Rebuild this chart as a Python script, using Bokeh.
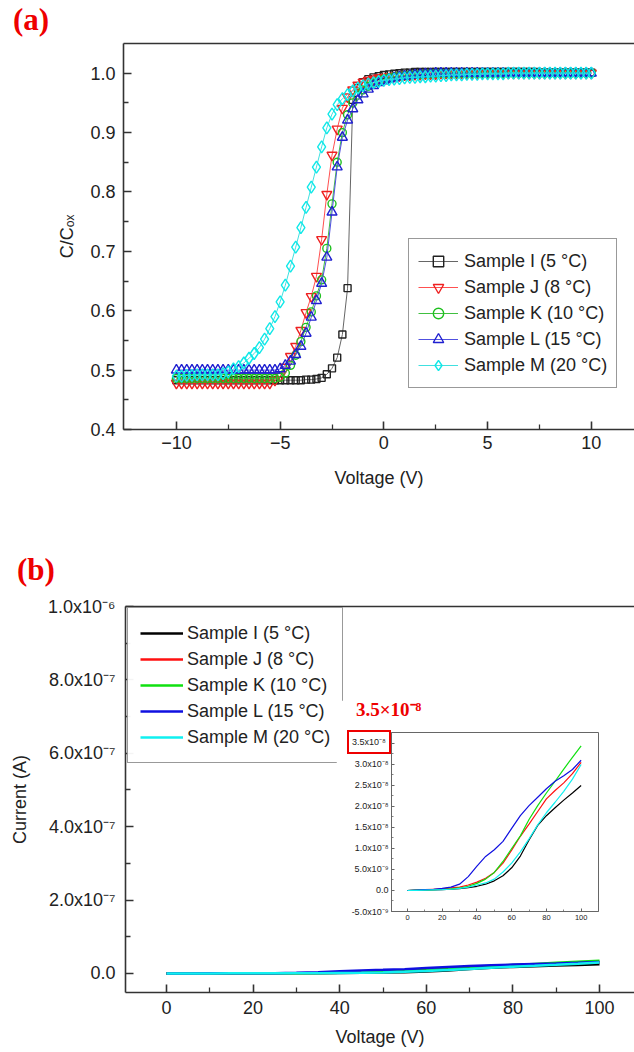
from bokeh.plotting import figure
from bokeh.models import Range1d, FixedTicker, LinearAxis, Div
from bokeh.layouts import column
from bokeh.embed import file_html
from bokeh.resources import INLINE

FONT = "Liberation Sans"
SERIF = "Liberation Serif"

# ---------------- data: panel (a) C-V curves ----------------
voltage_a = [
    -10.0, -9.75, -9.5, -9.25, -9.0, -8.75, -8.5, -8.25, -8.0, -7.75,
    -7.5, -7.25, -7.0, -6.75, -6.5, -6.25, -6.0, -5.75, -5.5, -5.25,
    -5.0, -4.75, -4.5, -4.25, -4.0, -3.75, -3.5, -3.25, -3.0, -2.75,
    -2.5, -2.25, -2.0, -1.75, -1.5, -1.25, -1.0, -0.75, -0.5, -0.25,
    0.0, 0.25, 0.5, 0.75, 1.0, 1.25, 1.5, 1.75, 2.0, 2.25,
    2.5, 2.75, 3.0, 3.25, 3.5, 3.75, 4.0, 4.25, 4.5, 4.75,
    5.0, 5.25, 5.5, 5.75, 6.0, 6.25, 6.5, 6.75, 7.0, 7.25,
    7.5, 7.75, 8.0, 8.25, 8.5, 8.75, 9.0, 9.25, 9.5, 9.75,
    10.0]

c_sample_I = [
    0.483, 0.483, 0.483, 0.483, 0.483, 0.483, 0.483, 0.483, 0.483, 0.483,
    0.483, 0.483, 0.483, 0.483, 0.483, 0.483, 0.483, 0.483, 0.483, 0.483,
    0.483, 0.483, 0.483, 0.483, 0.483, 0.484, 0.484, 0.485, 0.487, 0.493,
    0.503, 0.521, 0.560, 0.638, 0.955, 0.975, 0.985, 0.990, 0.993, 0.995,
    0.997, 0.998, 0.999, 1.000, 1.001, 1.001, 1.002, 1.002, 1.002, 1.002,
    1.002, 1.002, 1.002, 1.002, 1.002, 1.002, 1.002, 1.002, 1.002, 1.002,
    1.002, 1.002, 1.002, 1.002, 1.002, 1.002, 1.002, 1.002, 1.002, 1.002,
    1.001, 1.001, 1.001, 1.001, 1.001, 1.001, 1.001, 1.001, 1.001, 1.001,
    1.001]

c_sample_J = [
    0.478, 0.478, 0.478, 0.478, 0.478, 0.478, 0.478, 0.478, 0.478, 0.478,
    0.478, 0.478, 0.478, 0.478, 0.478, 0.478, 0.478, 0.478, 0.478, 0.483,
    0.490, 0.505, 0.523, 0.540, 0.567, 0.597, 0.624, 0.658, 0.720, 0.796,
    0.862, 0.906, 0.941, 0.960, 0.972, 0.980, 0.985, 0.988, 0.990, 0.992,
    0.993, 0.994, 0.995, 0.996, 0.997, 0.997, 0.998, 0.998, 0.999, 0.999,
    0.999, 1.000, 1.000, 1.000, 1.000, 1.000, 1.000, 1.000, 1.000, 1.000,
    1.000, 1.000, 1.000, 1.000, 1.000, 1.000, 1.000, 1.000, 1.000, 1.000,
    1.000, 1.000, 1.000, 1.000, 1.000, 1.000, 1.000, 1.000, 1.000, 1.000,
    1.000]

c_sample_K = [
    0.486, 0.486, 0.486, 0.486, 0.486, 0.486, 0.486, 0.486, 0.486, 0.486,
    0.486, 0.486, 0.486, 0.486, 0.486, 0.486, 0.486, 0.486, 0.486, 0.486,
    0.488, 0.495, 0.508, 0.525, 0.548, 0.572, 0.598, 0.625, 0.652, 0.705,
    0.780, 0.850, 0.900, 0.930, 0.950, 0.963, 0.972, 0.978, 0.983, 0.987,
    0.990, 0.992, 0.994, 0.995, 0.996, 0.997, 0.998, 0.998, 0.999, 0.999,
    1.000, 1.000, 1.000, 1.000, 1.000, 1.000, 1.000, 1.000, 1.000, 1.000,
    1.000, 1.000, 1.000, 1.000, 1.000, 1.000, 1.000, 1.000, 1.000, 1.000,
    1.000, 1.000, 1.000, 1.000, 1.000, 1.000, 1.000, 1.000, 1.000, 1.000,
    1.000]

c_sample_L = [
    0.500, 0.500, 0.500, 0.500, 0.500, 0.500, 0.500, 0.500, 0.500, 0.500,
    0.500, 0.500, 0.500, 0.500, 0.500, 0.500, 0.500, 0.500, 0.500, 0.500,
    0.502, 0.508, 0.515, 0.526, 0.540, 0.562, 0.589, 0.617, 0.646, 0.690,
    0.766, 0.842, 0.892, 0.921, 0.940, 0.955, 0.965, 0.973, 0.979, 0.984,
    0.987, 0.990, 0.992, 0.994, 0.995, 0.996, 0.997, 0.998, 0.999, 0.999,
    1.000, 1.000, 1.000, 1.000, 1.000, 1.000, 1.000, 1.000, 1.000, 1.000,
    1.000, 1.000, 1.000, 1.000, 1.000, 1.000, 1.000, 1.000, 1.000, 1.000,
    1.000, 1.000, 1.000, 1.000, 1.000, 1.000, 1.000, 1.000, 1.000, 1.000,
    1.000]

c_sample_M = [
    0.490, 0.490, 0.491, 0.491, 0.492, 0.492, 0.492, 0.492, 0.492, 0.494,
    0.497, 0.502, 0.506, 0.512, 0.520, 0.528, 0.538, 0.552, 0.570, 0.590,
    0.615, 0.643, 0.675, 0.707, 0.740, 0.774, 0.808, 0.842, 0.876, 0.908,
    0.931, 0.947, 0.957, 0.964, 0.970, 0.975, 0.979, 0.982, 0.984, 0.986,
    0.988, 0.989, 0.990, 0.991, 0.992, 0.993, 0.993, 0.994, 0.994, 0.995,
    0.995, 0.996, 0.996, 0.997, 0.997, 0.997, 0.998, 0.998, 0.998, 0.999,
    0.999, 0.999, 0.999, 0.999, 1.000, 1.000, 1.000, 1.000, 1.000, 1.000,
    1.000, 1.000, 1.000, 1.000, 1.000, 1.000, 1.000, 1.000, 1.000, 1.000,
    1.000]

# ---------------- data: panel (b) I-V curves (nA) ----------------
voltage_b = [0, 5, 10, 15, 20, 25, 30, 35, 40, 45, 50,
             55, 60, 65, 70, 75, 80, 85, 90, 95, 100]
i_sample_I_nA = [0.0, 0.05, 0.1, 0.15, 0.2, 0.3, 0.45, 0.7, 1.0, 1.5, 2.3,
                 3.5, 5.4, 8.2, 12.0, 15.5, 17.8, 19.7, 21.5, 23.2, 25.0]
i_sample_J_nA = [0.0, 0.1, 0.2, 0.3, 0.4, 0.6, 0.8, 1.3, 2.0, 2.9, 4.3,
                 6.5, 9.6, 12.9, 15.8, 18.8, 21.8, 23.8, 25.6, 27.8, 30.5]
i_sample_K_nA = [0.0, 0.1, 0.15, 0.2, 0.3, 0.4, 0.6, 1.0, 1.7, 2.7, 4.3,
                 6.9, 10.0, 13.0, 16.9, 20.2, 23.2, 26.0, 28.9, 31.7, 34.4]
i_sample_L_nA = [0.0, 0.1, 0.2, 0.3, 0.5, 0.8, 1.5, 3.3, 5.8, 8.1, 9.7,
                 11.7, 14.8, 17.8, 20.2, 22.2, 24.2, 26.0, 27.3, 28.8, 31.0]
i_sample_M_nA = [0.0, 0.05, 0.1, 0.15, 0.2, 0.3, 0.5, 0.8, 1.3, 1.8, 2.7,
                 4.4, 6.5, 9.2, 12.3, 15.6, 18.5, 21.0, 23.6, 26.5, 30.0]

labels = ["Sample I (5 \u00b0C)", "Sample J (8 \u00b0C)", "Sample K (10 \u00b0C)",
          "Sample L (15 \u00b0C)", "Sample M (20 \u00b0C)"]

# ---------------- ticks ----------------
x_ticks_a = [-10, -5, 0, 5, 10]
x_minor_a = [-7.5, -2.5, 2.5, 7.5]
y_ticks_a = [0.4, 0.5, 0.6, 0.7, 0.8, 0.9, 1.0]
y_tick_labels_a = ["0.4", "0.5", "0.6", "0.7", "0.8", "0.9", "1.0"]
y_minor_a = [0.45, 0.55, 0.65, 0.75, 0.85, 0.95]

x_ticks_b = [0, 20, 40, 60, 80, 100]
x_minor_b = [10, 30, 50, 70, 90]
y_ticks_b = [0.0, 2e-7, 4e-7, 6e-7, 8e-7, 1e-6]
y_tick_labels_b = ["0.0", "2.0x10\u207b\u2077", "4.0x10\u207b\u2077", "6.0x10\u207b\u2077",
                   "8.0x10\u207b\u2077", "1.0x10\u207b\u2076"]
y_minor_b = [1e-7, 3e-7, 5e-7, 7e-7, 9e-7]

y_ticks_in = [-5e-9, 0.0, 5e-9, 1e-8, 1.5e-8, 2e-8, 2.5e-8, 3e-8, 3.5e-8]
y_tick_labels_in = ["-5.0x10\u207b\u2079", "0.0", "5.0x10\u207b\u2079", "1.0x10\u207b\u2078",
                    "1.5x10\u207b\u2078", "2.0x10\u207b\u2078", "2.5x10\u207b\u2078",
                    "3.0x10\u207b\u2078", "3.5x10\u207b\u2078"]
y_minor_in = [-2.5e-9, 2.5e-9, 7.5e-9, 1.25e-8, 1.75e-8, 2.25e-8, 2.75e-8, 3.25e-8]
highlight_tick = 3.5e-8
highlight_text = "3.5x10\u207b\u2078"
callout_text = "3.5\u00d710\u207b\u2078"
panel_labels = ["(a)", "(b)"]


def style_axis(ax, font_size="18px", tick_in=8, minor_in=5, lw=1.6, color="#333333"):
    ax.axis_line_width = lw
    ax.axis_line_color = color
    ax.major_tick_in = tick_in
    ax.major_tick_out = 0
    ax.minor_tick_in = minor_in
    ax.minor_tick_out = 0
    ax.major_tick_line_width = lw
    ax.minor_tick_line_width = lw * 0.8
    ax.major_tick_line_color = color
    ax.minor_tick_line_color = color
    ax.major_label_text_font = FONT
    ax.major_label_text_font_size = font_size
    ax.major_label_text_color = "#222222"
    ax.axis_label_text_font = FONT
    ax.axis_label_text_font_size = font_size
    ax.axis_label_text_font_style = "normal"
    ax.axis_label_text_color = "#222222"


def top_border(p, lw=1.6):
    ax = LinearAxis(ticker=FixedTicker(ticks=[]), major_label_text_font_size="0px",
                    axis_line_width=lw, axis_line_color="#333333",
                    major_tick_in=0, major_tick_out=0, minor_tick_in=0, minor_tick_out=0)
    p.add_layout(ax, "above")


def red_text(text, width, height, size):
    return Div(text=text, width=width, height=height, margin=0,
               styles={"font-family": "'Liberation Serif'", "font-weight": "bold",
                       "font-size": size, "line-height": "%dpx" % height,
                       "color": "#ee0000", "white-space": "nowrap"})


# ================= panel (a) =================
pa = figure(width=634, height=520, output_backend="svg", toolbar_location=None,
            x_range=Range1d(-12.55, 12.08), y_range=Range1d(0.4, 1.05),
            min_border_left=123, min_border_right=0, min_border_top=43,
            min_border_bottom=91)
pa.grid.visible = False
pa.outline_line_color = None

xa = pa.xaxis[0]
ya = pa.yaxis[0]
xa.ticker = FixedTicker(ticks=x_ticks_a, minor_ticks=x_minor_a)
ya.ticker = FixedTicker(ticks=y_ticks_a, minor_ticks=y_minor_a)
ya.major_label_overrides = dict(zip(y_ticks_a, y_tick_labels_a))
style_axis(xa)
style_axis(ya)
xa.axis_label = "Voltage (V)"
ya.axis_label = "C/C\u2092\u2093"
xa.major_label_standoff = 6
xa.axis_label_standoff = 16
ya.major_label_standoff = 8
ya.axis_label_standoff = 10
top_border(pa)

series_a = [
    (c_sample_I, "#222222", "#666666", "square", 7),
    (c_sample_J, "#ee2020", "#ff5050", "inverted_triangle", 10),
    (c_sample_K, "#20c020", "#40c040", "circle", 8),
    (c_sample_L, "#2020d0", "#5050e0", "triangle", 10),
    (c_sample_M, "#10e8e8", "#40e0e0", "diamond", 12),
]
for (vals, mcol, lcol, marker, size), lab in zip(series_a, labels):
    pa.line(voltage_a, vals, line_color=lcol, line_width=1, legend_label=lab)
    pa.scatter(voltage_a, vals, marker=marker, size=size,
               line_color=mcol, line_width=1.4, fill_color=None, legend_label=lab)

lga = pa.legend[0]
lga.location = (285, 41)
lga.margin = 0
lga.padding = 9
lga.spacing = 0
lga.label_height = 26
lga.glyph_height = 26
lga.glyph_width = 40
lga.label_standoff = 6
lga.label_text_font = FONT
lga.label_text_font_size = "18px"
lga.label_text_color = "#222222"
lga.border_line_color = "#333333"
lga.border_line_width = 1.5
lga.background_fill_alpha = 1.0

# ================= panel (b) =================
pb = figure(width=634, height=532, output_backend="svg", toolbar_location=None,
            x_range=Range1d(-9.47, 108.08), y_range=Range1d(-5.2e-8, 1.0e-6),
            min_border_left=125, min_border_right=0, min_border_top=86,
            min_border_bottom=60)
pb.grid.visible = False
pb.outline_line_color = None

xb = pb.xaxis[0]
yb = pb.yaxis[0]
xb.ticker = FixedTicker(ticks=x_ticks_b, minor_ticks=x_minor_b)
yb.ticker = FixedTicker(ticks=y_ticks_b, minor_ticks=y_minor_b)
yb.major_label_overrides = dict(zip(y_ticks_b, y_tick_labels_b))
style_axis(xb)
style_axis(yb)
xb.axis_label = "Voltage (V)"
yb.axis_label = "Current (A)"
xb.major_label_standoff = 8
xb.axis_label_standoff = 10
yb.major_label_standoff = 10
yb.axis_label_standoff = 15
top_border(pb)

series_b = [
    (i_sample_I_nA, "#000000"),
    (i_sample_J_nA, "#ff1010"),
    (i_sample_K_nA, "#10e010"),
    (i_sample_L_nA, "#1010e0"),
    (i_sample_M_nA, "#10f0f0"),
]
for (vals, col), lab in zip(series_b, labels):
    pb.line(voltage_b, [v * 1e-9 for v in vals], line_color=col, line_width=2.5,
            legend_label=lab)

lgb = pb.legend[0]
lgb.location = (2, 229)
lgb.margin = 0
lgb.padding = 12
lgb.spacing = 0
lgb.label_height = 26
lgb.glyph_height = 26
lgb.glyph_width = 43
lgb.label_standoff = 4
lgb.label_text_font = FONT
lgb.label_text_font_size = "18px"
lgb.label_text_color = "#222222"
lgb.border_line_color = "#333333"
lgb.border_line_width = 1.5

# ================= inset =================
pi = figure(width=274, height=228, output_backend="svg", toolbar_location=None,
            x_range=Range1d(-9.2, 110.0), y_range=Range1d(-5e-9, 3.76e-8),
            min_border_left=55, min_border_right=12, min_border_top=32,
            min_border_bottom=17)
pi.grid.visible = False
pi.outline_line_color = "#666666"
pi.outline_line_width = 1

xi = pi.xaxis[0]
yi = pi.yaxis[0]
xi.ticker = FixedTicker(ticks=x_ticks_b, minor_ticks=x_minor_b)
yi.ticker = FixedTicker(ticks=y_ticks_in, minor_ticks=y_minor_in)
overrides_in = dict(zip(y_ticks_in, y_tick_labels_in))
overrides_in[highlight_tick] = ""
yi.major_label_overrides = overrides_in
style_axis(xi, font_size="7.5px", tick_in=3, minor_in=2, lw=1, color="#666666")
style_axis(yi, font_size="9px", tick_in=3, minor_in=2, lw=1, color="#666666")
xi.major_label_standoff = 3
yi.major_label_standoff = 3

for (vals, col), lab in zip(series_b, labels):
    pi.line(voltage_b, [v * 1e-9 for v in vals], line_color=col, line_width=1.2)

# the highlighted inset tick label, boxed in red
box = Div(text=highlight_text, width=44, height=24, margin=0,
          styles={"box-sizing": "border-box", "border": "2px solid #ee0000",
                  "font-family": "'Liberation Sans'", "font-size": "9px",
                  "color": "#222222", "display": "flex", "align-items": "center",
                  "justify-content": "center", "background": "white"})
callout = red_text(callout_text, 80, 22, "19px")
label_a = red_text(panel_labels[0], 50, 31, "31px")
label_b = red_text(panel_labels[1], 50, 31, "31px")

# stacked children: pa 0-520, pb 520-1052, then overlays placed with margins
layout = column(column(pa), column(pb),
                column(pi, margin=(-352, 0, 0, 336)),       # inset: top 700
                column(box, margin=(-198, 0, 0, 347)),      # box: top 730
                column(callout, margin=(-55, 0, 0, 356)),   # callout: top 699
                column(label_a, margin=(-717, 0, 0, 13)),   # (a): top 4
                column(label_b, margin=(519, 0, 0, 17)),    # (b): top 554
                spacing=0)
open("out.html", "w").write(file_html(layout, INLINE))
